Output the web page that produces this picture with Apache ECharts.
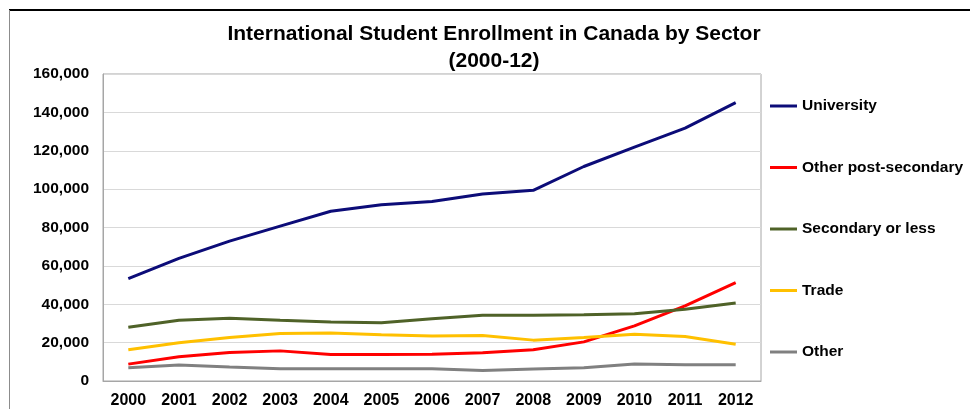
<!DOCTYPE html>
<html>
<head>
<meta charset="utf-8">
<script src="https://cdn.jsdelivr.net/npm/echarts@6/dist/echarts.min.js"></script>
<style>
  html, body { margin: 0; padding: 0; background: #fff; }
  #chart { width: 970px; height: 409px; }
</style>
</head>
<body>
<div id="chart"></div>
<script>
const years = ['2000', '2001', '2002', '2003', '2004', '2005', '2006', '2007', '2008', '2009', '2010', '2011', '2012']

const university = [53300, 63900, 72900, 80700, 88500, 91900, 93600, 97500, 99400, 111800, 121900, 131800, 145100]
const otherPostSecondary = [8800, 12600, 14900, 15700, 13800, 13800, 14000, 14700, 16300, 20400, 28700, 39100, 51300]
const secondaryOrLess = [28000, 31700, 32700, 31700, 30800, 30300, 32400, 34300, 34300, 34500, 35000, 37400, 40700]
const trade = [16300, 19900, 22700, 24800, 25000, 24100, 23400, 23700, 21300, 22700, 24400, 23200, 19200]
const other = [6900, 8300, 7300, 6400, 6400, 6400, 6400, 5500, 6200, 6900, 8800, 8500, 8500]

const seriesNames = ['University', 'Other post-secondary', 'Secondary or less', 'Trade', 'Other']
const seriesData = [university, otherPostSecondary, secondaryOrLess, trade, other]
const colors = ['#0c0c78', '#ff0000', '#4f6228', '#ffc000', '#808080']

const chart = echarts.init(document.getElementById('chart'))
const font = 'Liberation Sans, Arial, sans-serif'

const options = {
  animation: false,
  color: colors,
  textStyle: { fontFamily: font },
  title: {
    text: 'International Student Enrollment in Canada by Sector\n(2000-12)',
    left: 489,
    textAlign: 'center',
    top: 16,
    textStyle: { fontSize: 21, fontWeight: 'bold', color: '#000', lineHeight: 27, fontFamily: font }
  },
  grid: { left: 103, top: 74, right: 209, bottom: 27, show: true, borderColor: '#a6a6a6', borderWidth: 1 },
  legend: {
    orient: 'vertical',
    left: 765,
    top: 92,
    itemGap: 43.5,
    itemWidth: 27,
    itemHeight: 3,
    icon: 'rect',
    textStyle: { fontSize: 15.5, fontWeight: 'bold', color: '#000', lineHeight: 18 },
    data: seriesNames
  },
  xAxis: {
    type: 'category',
    data: years,
    boundaryGap: true,
    axisLine: { lineStyle: { color: '#a6a6a6' } },
    axisTick: { show: false },
    axisLabel: { fontSize: 16, fontWeight: 'bold', color: '#000', margin: 12 }
  },
  yAxis: {
    type: 'value',
    min: 0,
    max: 160000,
    interval: 20000,
    axisLine: { show: true, lineStyle: { color: '#a6a6a6' } },
    axisTick: { show: false },
    splitLine: { lineStyle: { color: '#d9d9d9' } },
    axisLabel: {
      fontSize: 15.5,
      fontWeight: 'bold',
      color: '#000',
      margin: 14,
      formatter: (v) => v.toLocaleString('en-US')
    }
  },
  graphic: [
    { type: 'line', shape: { x1: 9, y1: 10, x2: 970, y2: 10 }, style: { stroke: '#000', lineWidth: 2 } },
    { type: 'line', shape: { x1: 9.5, y1: 10, x2: 9.5, y2: 409 }, style: { stroke: '#8c8c8c', lineWidth: 1 } }
  ],
  series: seriesNames.map((name, i) => ({
    name: name,
    type: 'line',
    data: seriesData[i],
    symbol: 'none',
    lineStyle: { width: 3, color: colors[i] },
    itemStyle: { color: colors[i] }
  }))
}

chart.setOption(options)
</script>
</body>
</html>
